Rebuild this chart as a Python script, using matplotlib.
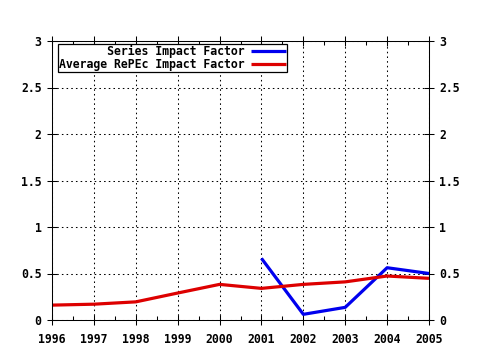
import matplotlib
matplotlib.use("Agg")
import matplotlib.pyplot as plt
from matplotlib.ticker import MultipleLocator
import numpy as np

# data
years = [1996, 1997, 1998, 1999, 2000, 2001, 2002, 2003, 2004, 2005]
avg_vals = [0.16, 0.17, 0.195, 0.29, 0.383, 0.34, 0.383, 0.41, 0.473, 0.448]
series_years = [2001, 2002, 2003, 2004, 2005]
series_vals = [0.663, 0.061, 0.136, 0.562, 0.50]
y_ticks = [0, 0.5, 1, 1.5, 2, 2.5, 3]
y_labels = ["0", "0.5", "1", "1.5", "2", "2.5", "3"]

FONT = {"family": "DejaVu Sans Mono", "weight": "bold", "size": 8.3}

fig = plt.figure(figsize=(4.8, 3.5), dpi=100)
ax = fig.add_axes([52 / 480, 1 - 320 / 350, 377 / 480, 279 / 350])

ax.plot(series_years, series_vals, color="#0000ee", linewidth=2.3,
    label="       Series Impact Factor", solid_capstyle="butt")
ax.plot(years, avg_vals, color="#dd0000", linewidth=2.3,
    label="Average RePEc Impact Factor", solid_capstyle="butt")

ax.set_xlim(1996, 2005)
ax.set_ylim(0, 3)
ax.set_xticks(years)
ax.set_xticklabels([str(y) for y in years], fontdict=FONT)
ax.set_yticks(y_ticks)
ax.set_yticklabels(y_labels, fontdict=FONT)
ax.xaxis.set_minor_locator(MultipleLocator(0.5))

ax.grid(True, which="major", color="k", linestyle=(0, (1.5, 3)), linewidth=0.75)

ax.tick_params(which="major", direction="inout", length=7, width=0.75,
    top=True, right=True, labelright=True, pad=4)
ax.tick_params(axis="x", which="major", pad=6)
ax.tick_params(which="minor", direction="in", length=3, width=0.75,
    top=True, bottom=True)
for s in ax.spines.values() :
    s.set_linewidth(0.75)

leg = ax.legend(loc="upper left", bbox_to_anchor=(0.016, 0.989),
    borderaxespad=0, markerfirst=False, fancybox=False, shadow=False,
    framealpha=1, edgecolor="k", borderpad=0.08, labelspacing=0.0,
    handlelength=3.0, handletextpad=0.6,
    prop={"family": "DejaVu Sans Mono", "weight": "bold", "size": 8.3})
leg.get_frame().set_linewidth(0.9)

fig.savefig("out.png", dpi=100)
